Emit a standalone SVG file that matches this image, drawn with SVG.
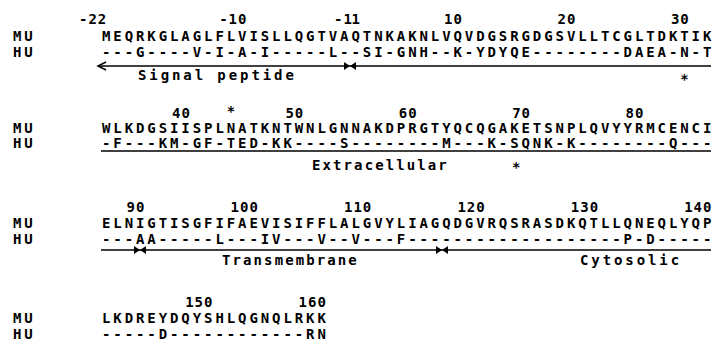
<svg xmlns="http://www.w3.org/2000/svg" width="715" height="349" viewBox="0 0 715 349">
<defs>
<style>
text{font-family:"DejaVu Sans Mono","Liberation Mono",monospace;font-weight:bold;font-size:14px;fill:#000}
.seq{letter-spacing:2.91px}
.num{letter-spacing:1px}
.r2{letter-spacing:2.1px}
.ln{stroke:#000;stroke-width:1.5;fill:none}
</style>
<path id="bow" d="M-6,-4 L6,4 L6,-4 L-6,4 Z" fill="#000"/>
</defs>
<rect width="715" height="349" fill="#fff"/>

<g id="block1">
<text class="num" x="79" y="24">-22</text>
<text class="num" x="219.2" y="24">-10</text>
<text class="num" x="334" y="24">-1</text>
<text class="num" x="351.5" y="24">1</text>
<text class="num" x="444.1" y="24">10</text>
<text class="num" x="557.5" y="24">20</text>
<text class="num" x="670.9" y="24">30</text>
<text class="seq" x="13" y="41">MU</text>
<text class="seq" x="13" y="57">HU</text>
<text class="seq" x="102" y="41">MEQRKGLAGLFLVISLLQGTVAQTNKAKNLVQVDGSRGDGSVLLTCGLTDKTIK</text>
<text class="seq" x="102" y="57">---G----V-I-A-I-----L--SI-GNH--K-YDYQE--------DAEA-N-T</text>
<text class="seq" x="138" y="80">Signal peptide</text>
<text class="seq" x="680.3" y="84">*</text>
</g>

<g id="block2">
<text class="num" x="172" y="118">40</text>
<text class="seq" x="226.7" y="116">*</text>
<text class="num" x="285.4" y="118">50</text>
<text class="num" x="398.8" y="118">60</text>
<text class="num" x="512.2" y="118">70</text>
<text class="num" x="625.6" y="118">80</text>
<text class="seq" x="13" y="133">MU</text>
<text class="seq" x="13" y="148">HU</text>
<text class="seq" x="102" y="133">WLKDGSIISPLNATKNTWNLGNNAKDPRGTYQCQGAKETSNPLQVYYRMCENCI</text>
<text class="seq" x="102" y="148">-F---KM-GF-TED-KK----S--------M---K-SQNK-K--------Q---</text>
<text class="r2" x="312" y="170">Extracellular</text>
<text class="seq" x="512" y="172">*</text>
</g>

<g id="block3">
<text class="num" x="126.6" y="212">90</text>
<text class="num" x="230.6" y="212">100</text>
<text class="num" x="344" y="212">110</text>
<text class="num" x="457.4" y="212">120</text>
<text class="num" x="570.8" y="212">130</text>
<text class="num" x="684.2" y="212">140</text>
<text class="seq" x="13" y="228">MU</text>
<text class="seq" x="13" y="244">HU</text>
<text class="seq" x="102" y="228">ELNIGTISGFIFAEVISIFFLALGVYLIAGQDGVRQSRASDKQTLLQNEQLYQP</text>
<text class="seq" x="102" y="244">---AA-----L---IV---V--V---F-------------------P-D-----</text>
<text class="r2" x="222" y="265">Transmembrane</text>
<text class="seq" x="580" y="265">Cytosolic</text>
</g>

<g id="block4">
<text class="num" x="185.2" y="307">150</text>
<text class="num" x="298.6" y="307">160</text>
<text class="seq" x="13" y="323">MU</text>
<text class="seq" x="13" y="339">HU</text>
<text class="seq" x="102" y="323">LKDREYDQYSHLQGNQLRKK</text>
<text class="seq" x="102" y="339">-----D------------RN</text>
</g>

<g id="connectors">
<path class="ln" d="M98,66 H711"/>
<path class="ln" d="M106,62 L98,66 L106,70"/>
<use href="#bow" x="350" y="66"/>
<path class="ln" d="M101,151 H711"/>
<path class="ln" d="M101,250 H711"/>
<use href="#bow" x="140" y="250"/>
<use href="#bow" x="442" y="250"/>
</g>
</svg>
